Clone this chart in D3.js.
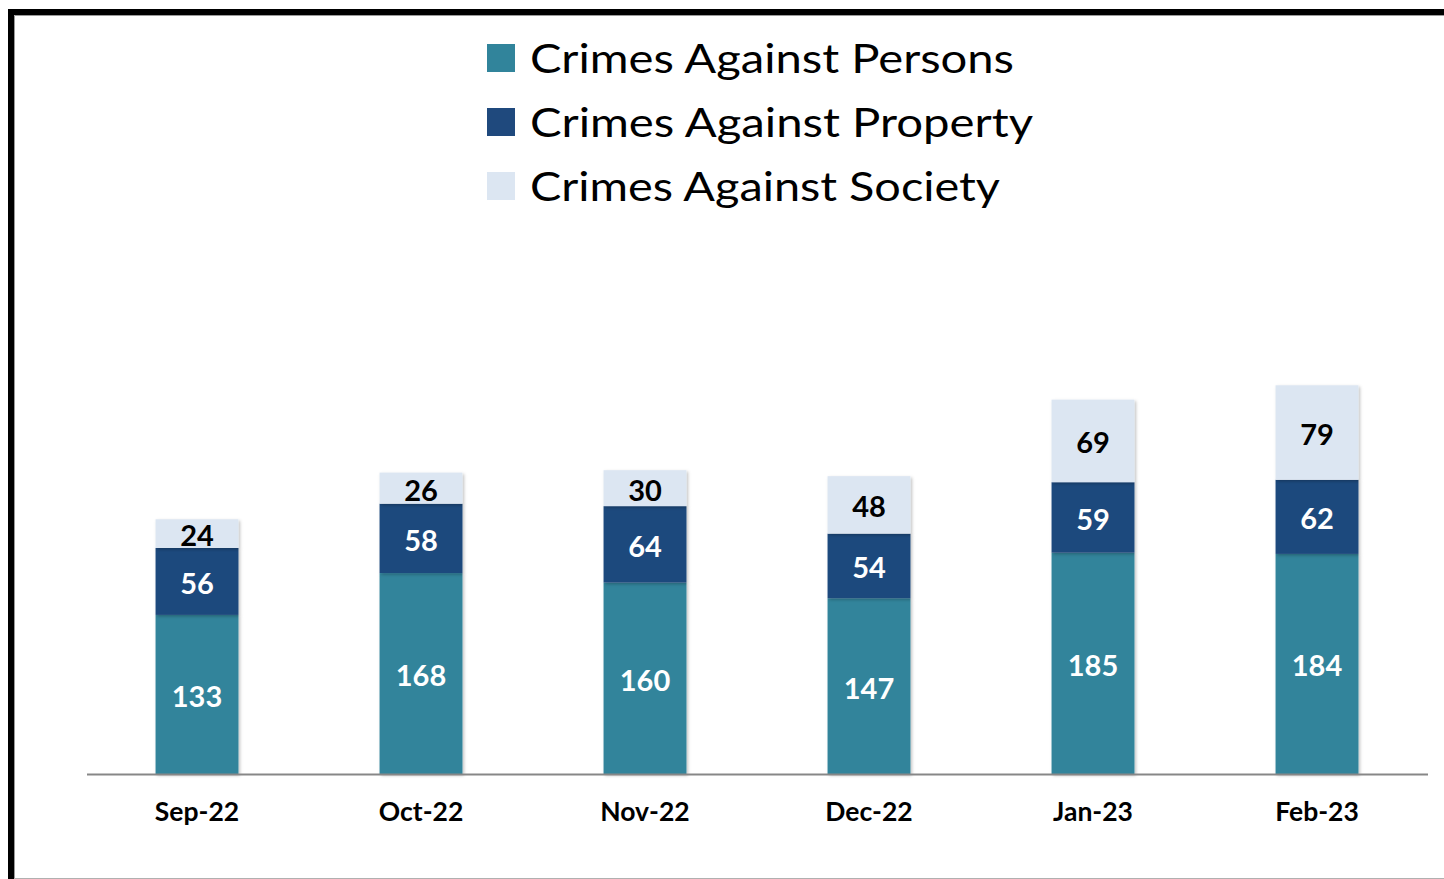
<!DOCTYPE html>
<html>
<head>
<meta charset="utf-8">
<script src="https://cdn.jsdelivr.net/npm/d3@7/dist/d3.min.js"></script>
<style>
  html, body { margin: 0; padding: 0; background: #fff; }
  svg { display: block; }
</style>
</head>
<body>
<svg id="chart" width="1444" height="879"></svg>
<script>
const months = ["Sep-22", "Oct-22", "Nov-22", "Dec-22", "Jan-23", "Feb-23"];
const seriesNames = ["Crimes Against Persons", "Crimes Against Property", "Crimes Against Society"];
const persons  = [133, 168, 160, 147, 185, 184];
const property = [56, 58, 64, 54, 59, 62];
const society  = [24, 26, 30, 48, 69, 79];

const colors = ["#31849B", "#1F497D", "#DCE6F2"];
const labelColors = ["#ffffff", "#ffffff", "#000000"];
const legendWidths = [484, 503, 470];

const table = months.map((m, i) => ({
  month: m,
  [seriesNames[0]]: persons[i],
  [seriesNames[1]]: property[i],
  [seriesNames[2]]: society[i]
}));

const svg = d3.select("#chart");
const font = "Lato, 'Open Sans', sans-serif";

const defs = svg.append("defs");
const f = defs.append("filter").attr("id", "shadow")
  .attr("x", "-10%").attr("y", "-10%").attr("width", "130%").attr("height", "130%");
f.append("feDropShadow").attr("dx", 1.5).attr("dy", 1.5).attr("stdDeviation", 1.5)
  .attr("flood-color", "#000").attr("flood-opacity", 0.25);

// frame
svg.append("line").attr("x1", 11).attr("x2", 1444).attr("y1", 12).attr("y2", 12)
  .attr("stroke", "#000").attr("stroke-width", 6);
svg.append("line").attr("x1", 11).attr("x2", 11).attr("y1", 9).attr("y2", 879)
  .attr("stroke", "#000").attr("stroke-width", 6);
svg.append("line").attr("x1", 14.5).attr("x2", 1444).attr("y1", 15.5).attr("y2", 15.5)
  .attr("stroke", "#9a9a9a").attr("stroke-width", 1);
svg.append("line").attr("x1", 14.5).attr("x2", 14.5).attr("y1", 15.5).attr("y2", 879)
  .attr("stroke", "#9a9a9a").attr("stroke-width", 1);
svg.append("line").attr("x1", 14).attr("x2", 1444).attr("y1", 878.5).attr("y2", 878.5)
  .attr("stroke", "#b0b0b0").attr("stroke-width", 1);

// scales
const x = d3.scaleBand().domain(months).range([85, 1429]).paddingInner(0.63).paddingOuter(0.315);
const y = d3.scaleLinear().domain([0, 350]).range([774, 774 - 350 * 1.196]);

const stack = d3.stack().keys(seriesNames);
const stacked = stack(table);

const layers = svg.append("g").selectAll("g.layer").data(stacked).enter()
  .append("g").attr("class", "layer").attr("fill", (d, i) => colors[i]);

layers.selectAll("rect").data(d => d).enter().append("rect")
  .attr("x", d => x(d.data.month))
  .attr("width", x.bandwidth())
  .attr("y", d => y(d[1]))
  .attr("height", d => y(d[0]) - y(d[1]))
  .attr("filter", "url(#shadow)");

// value labels
stacked.forEach((layer, li) => {
  svg.append("g").selectAll("text").data(layer).enter().append("text")
    .attr("x", d => x(d.data.month) + x.bandwidth() / 2)
    .attr("y", d => (y(d[0]) + y(d[1])) / 2 + 1)
    .attr("text-anchor", "middle")
    .attr("dominant-baseline", "central")
    .attr("font-family", font)
    .attr("font-weight", "bold")
    .attr("font-size", 29)
    .attr("fill", labelColors[li])
    .text(d => d[1] - d[0]);
});

// axis
const axis = svg.append("g").attr("transform", "translate(0,774)")
  .call(d3.axisBottom(x).tickSize(0).tickPadding(0));
axis.select(".domain").attr("stroke", "#878787").attr("stroke-width", 2).attr("d", "M87,0.5H1428");
axis.selectAll(".tick text")
  .attr("y", 47)
  .attr("dy", 0)
  .attr("font-family", font)
  .attr("font-weight", "bold")
  .attr("font-size", 26.5)
  .attr("fill", "#000");

// legend
const legend = svg.append("g");
seriesNames.forEach((name, i) => {
  const g = legend.append("g").attr("transform", `translate(487,${44 + i * 64})`);
  g.append("rect").attr("width", 28).attr("height", 28).attr("fill", colors[i]);
  g.append("text").attr("x", 43).attr("y", 29)
    .attr("font-family", font).attr("font-size", 40).attr("fill", "#000")
    .attr("textLength", legendWidths[i]).attr("lengthAdjust", "spacingAndGlyphs")
    .text(name);
});
</script>
</body>
</html>
